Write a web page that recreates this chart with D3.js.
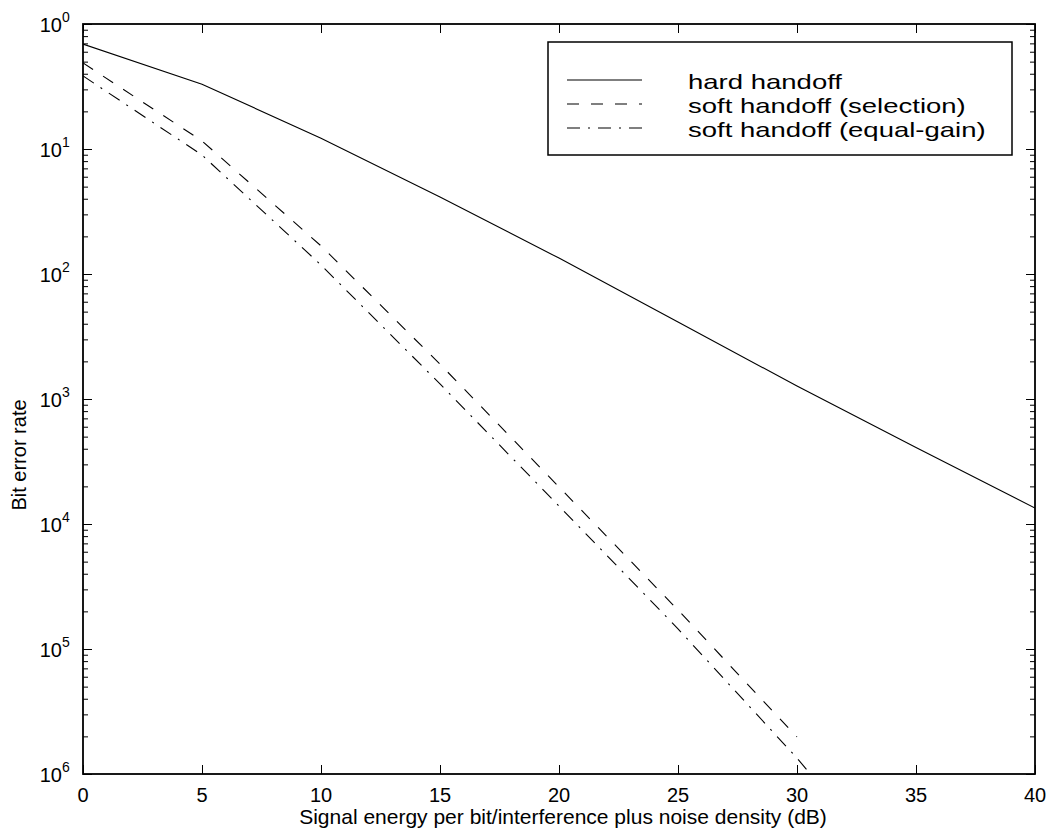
<!doctype html>
<html>
<head>
  <script src="https://d3js.org/d3.v7.min.js"></script>
</head>
<style>
  body {
    margin: 0;
    background: white;
  }

  svg text {
    fill: black;
    font-family: "Liberation Sans", Arial, sans-serif;
  }

  .axis path {
    display: none;
  }

  .axis line {
    stroke: black;
    stroke-width: 1;
  }
</style>
<body>
<svg></svg>

<script>
  // data
  const hardSnr = [0, 5, 10, 15, 20, 25, 30, 35, 40];
  const hardBer = [0.69, 0.33, 0.122, 0.0413, 0.0134, 0.00413, 0.00127, 4.1e-4, 1.34e-4];
  const selectionSnr = [0, 5, 10, 15, 20, 25, 30];
  const selectionBer = [0.488, 0.116, 0.0168, 1.9e-3, 1.98e-4, 2.05e-5, 1.98e-6];
  const equalGainSnr = [0, 5, 10, 15, 20, 25, 30, 35];
  const equalGainBer = [0.384, 0.0895, 0.0118, 1.32e-3, 1.39e-4, 1.45e-5, 1.34e-6, 1.0e-7];

  const xTicks = [0, 5, 10, 15, 20, 25, 30, 35, 40];
  const yDecades = [1, 1e-1, 1e-2, 1e-3, 1e-4, 1e-5, 1e-6];
  const yExponentLabels = ["0", "1", "2", "3", "4", "5", "6"];
  const legendLabels = ["hard handoff", "soft handoff (selection)", "soft handoff (equal-gain)"];
  const dashStyles = [null, "12,12", "13,8,2,8"];

  const width = 1048, height = 833;
  const plotLeft = 83, plotRight = 1035, plotTop = 24, plotBottom = 774;

  const svg = d3.select("svg")
    .attr("width", width)
    .attr("height", height);

  const x = d3.scaleLinear().domain([0, 40]).range([plotLeft, plotRight]);
  const y = d3.scaleLog().domain([1e-6, 1]).range([plotBottom, plotTop]);

  const minorTicks = [];
  yDecades.slice(1).forEach(function (d) {
    for (let k = 2; k <= 9; k++) minorTicks.push(d * k);
  });

  // ticks, pointing inward on all four sides
  svg.append("g").attr("class", "axis")
    .attr("transform", `translate(0,${plotBottom})`)
    .call(d3.axisBottom(x).tickValues(xTicks).tickSize(-9).tickFormat(""));
  svg.append("g").attr("class", "axis")
    .attr("transform", `translate(0,${plotTop})`)
    .call(d3.axisTop(x).tickValues(xTicks).tickSize(-9).tickFormat(""));
  svg.append("g").attr("class", "axis")
    .attr("transform", `translate(${plotLeft},0)`)
    .call(d3.axisLeft(y).tickValues(yDecades).tickSize(-9).tickFormat(""));
  svg.append("g").attr("class", "axis")
    .attr("transform", `translate(${plotRight},0)`)
    .call(d3.axisRight(y).tickValues(yDecades).tickSize(-9).tickFormat(""));
  svg.append("g").attr("class", "axis")
    .attr("transform", `translate(${plotLeft},0)`)
    .call(d3.axisLeft(y).tickValues(minorTicks).tickSize(-5).tickFormat(""));
  svg.append("g").attr("class", "axis")
    .attr("transform", `translate(${plotRight},0)`)
    .call(d3.axisRight(y).tickValues(minorTicks).tickSize(-5).tickFormat(""));

  // tick labels
  svg.selectAll(".xlabel")
    .data(xTicks)
    .enter().append("text")
    .attr("x", d => x(d))
    .attr("y", plotBottom + 28)
    .attr("text-anchor", "middle")
    .style("font-size", "20px")
    .text(d => d);

  yDecades.forEach(function (d, i) {
    svg.append("text")
      .attr("x", plotLeft - 21)
      .attr("y", y(d) + 8)
      .attr("text-anchor", "end")
      .style("font-size", "20px")
      .text("10");
    svg.append("text")
      .attr("x", plotLeft - 21)
      .attr("y", y(d) - 2)
      .style("font-size", "14px")
      .text(yExponentLabels[i]);
  });

  svg.append("text")
    .attr("x", 563)
    .attr("y", 824)
    .attr("text-anchor", "middle")
    .style("font-size", "21px")
    .text("Signal energy per bit/interference plus noise density (dB)");

  svg.append("text")
    .attr("transform", "translate(26,455) rotate(-90)")
    .attr("text-anchor", "middle")
    .style("font-size", "20px")
    .text("Bit error rate");

  // curves
  svg.append("clipPath").attr("id", "plot")
    .append("rect")
    .attr("x", plotLeft).attr("y", plotTop)
    .attr("width", plotRight - plotLeft).attr("height", plotBottom - plotTop);

  const line = d3.line().x(d => x(d[0])).y(d => y(d[1]));
  const series = [
    d3.zip(hardSnr, hardBer),
    d3.zip(selectionSnr, selectionBer),
    d3.zip(equalGainSnr, equalGainBer)
  ];
  series.forEach(function (s, i) {
    svg.append("path")
      .attr("clip-path", "url(#plot)")
      .attr("d", line(s))
      .attr("fill", "none")
      .attr("stroke", "black")
      .attr("stroke-width", 1.1)
      .attr("stroke-dasharray", dashStyles[i]);
  });

  // box
  svg.append("rect")
    .attr("x", plotLeft).attr("y", plotTop)
    .attr("width", plotRight - plotLeft).attr("height", plotBottom - plotTop)
    .attr("fill", "none")
    .attr("stroke", "black")
    .attr("stroke-width", 1.8);

  // legend (text is drawn wide, as in the original)
  const legend = svg.append("g");
  legend.append("rect")
    .attr("x", 548).attr("y", 42)
    .attr("width", 464).attr("height", 113)
    .attr("fill", "white")
    .attr("stroke", "black")
    .attr("stroke-width", 1.5);
  legendLabels.forEach(function (label, i) {
    const ly = 80 + i * 24;
    legend.append("line")
      .attr("x1", 567).attr("x2", 642)
      .attr("y1", ly).attr("y2", ly)
      .attr("stroke", "black")
      .attr("stroke-width", 1.1)
      .attr("stroke-dasharray", dashStyles[i]);
    legend.append("text")
      .attr("transform", `translate(688,${ly + 9}) scale(1.31,1)`)
      .style("font-size", "21px")
      .text(label);
  });
</script>
</body>
</html>
